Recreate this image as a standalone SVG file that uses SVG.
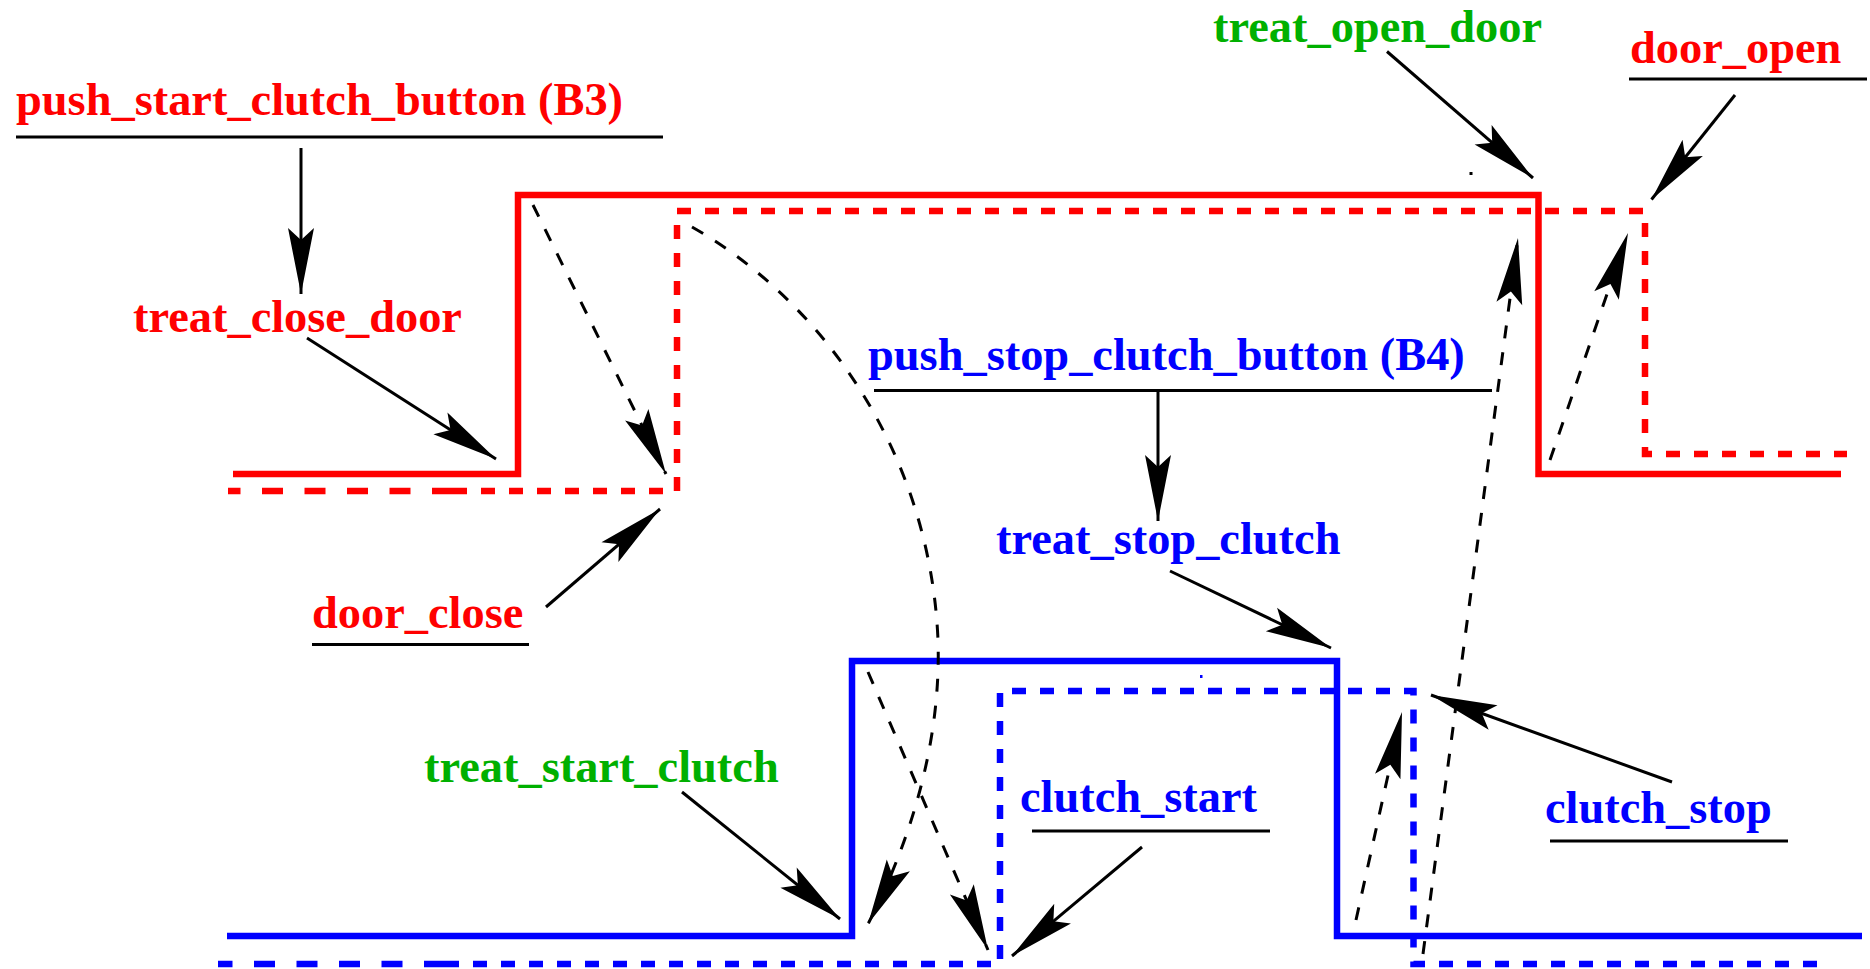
<svg xmlns="http://www.w3.org/2000/svg" width="1870" height="969" viewBox="0 0 1870 969">
<style>
.t{font-family:"Liberation Serif","Times New Roman",serif;font-weight:bold;font-size:46.4px}
.r{fill:#ff0000}.b{fill:#0000ff}.g{fill:#00b000}
.ul{stroke:#000;stroke-width:3;fill:none}
.sr{fill:none;stroke:#ff0000;stroke-width:6.5;stroke-linejoin:miter}
.sb{fill:none;stroke:#0000ff;stroke-width:6.5;stroke-linejoin:miter}
.long{stroke-dasharray:21 21.5}
.short{stroke-dasharray:14 14}
.ar{fill:none;stroke:#000;stroke-width:3;marker-end:url(#ah)}
.da{fill:none;stroke:#000;stroke-width:3;stroke-dasharray:13 14;marker-end:url(#ah)}
</style>
<defs>
<marker id="ah" markerUnits="userSpaceOnUse" viewBox="-70 -20 80 40" markerWidth="80" markerHeight="40" refX="0" refY="0" orient="auto">
<path d="M0,0 L-66,-13 L-54,0 L-66,13 Z" fill="#000" stroke="none"/>
</marker>
</defs>
<rect width="1870" height="969" fill="#fff"/>

<g id="door-signal">
<path class="sr" d="M233,474 H518 V195 H1538.5 V474 H1841"/>
<path class="sr long" d="M453,491 H228"/>
<path class="sr short" d="M453,491 H677 V211 H1645 V454 H1847"/>
</g>
<g id="clutch-signal">
<path class="sb" d="M227,936 H852 V661 H1337 V936 H1862"/>
<path class="sb long" d="M445,964 H218"/>
<path class="sb short" d="M445,964 H1000 V691 H1413.5 V964 H1829"/>
</g>

<g id="push_start_clutch_button">
<text class="t r" x="16" y="115">push_start_clutch_button (B3)</text>
<line class="ul" x1="16" y1="137" x2="663" y2="137"/>
</g>
<g id="treat_close_door"><text class="t r" x="133" y="332">treat_close_door</text></g>
<g id="door_close">
<text class="t r" x="312" y="628">door_close</text>
<line class="ul" x1="312" y1="644.5" x2="529" y2="644.5"/>
</g>
<g id="treat_start_clutch"><text class="t g" x="424" y="782">treat_start_clutch</text></g>
<g id="push_stop_clutch_button">
<text class="t b" x="868" y="370">push_stop_clutch_button (B4)</text>
<line class="ul" x1="874" y1="390.5" x2="1492" y2="390.5"/>
</g>
<g id="treat_stop_clutch"><text class="t b" x="996" y="554">treat_stop_clutch</text></g>
<g id="clutch_start">
<text class="t b" x="1020" y="812">clutch_start</text>
<line class="ul" x1="1032" y1="831" x2="1270" y2="831"/>
</g>
<g id="clutch_stop">
<text class="t b" x="1545" y="823">clutch_stop</text>
<line class="ul" x1="1550" y1="841" x2="1788" y2="841"/>
</g>
<g id="treat_open_door"><text class="t g" x="1213" y="41.5">treat_open_door</text></g>
<g id="door_open">
<text class="t r" x="1630" y="62.5">door_open</text>
<line class="ul" x1="1629" y1="79" x2="1867" y2="79"/>
</g>

<g id="connectors">
<path class="ar" d="M301,148 L301,294"/>
<path class="ar" d="M307,338 L496,459"/>
<path class="ar" d="M546,607 L660,509"/>
<path class="ar" d="M682,792 L840,919"/>
<path class="ar" d="M1158,390.5 L1158,521"/>
<path class="ar" d="M1170,571 L1331,648"/>
<path class="ar" d="M1142,847 L1012,956"/>
<path class="ar" d="M1672,782 L1431,695"/>
<path class="ar" d="M1387,51.5 L1533,178"/>
<path class="ar" d="M1735,95 L1651.5,199.5"/>
<path class="da" d="M533,205 L666,474"/>
<path class="da" d="M692,227 C820,300 930,450 938,640 C942,760 898,866 868,924"/>
<path class="da" d="M868,672 L988,950"/>
<path class="da" d="M1356,920 L1402,712"/>
<path class="da" d="M1550,460 L1628,233"/>
<path class="da" d="M1423,954 L1518,238"/>
</g>
<rect x="1469.5" y="172" width="3" height="3" fill="#000"/>
<rect x="1200" y="675" width="2.5" height="3" fill="#0000ff"/>
</svg>
